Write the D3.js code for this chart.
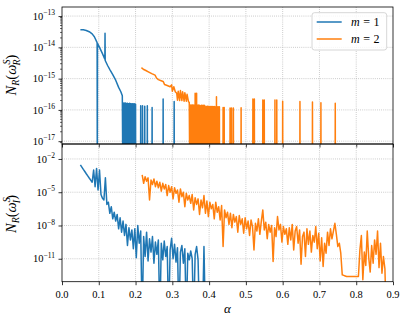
<!DOCTYPE html>
<html>
<head>
<meta charset="utf-8">
<script src="https://cdn.jsdelivr.net/npm/d3@7"></script>
<style>
  body { margin: 0; background: #fff; }
  svg { display: block; }
</style>
</head>
<body>
<svg id="chart" width="407" height="324" font-family="'Liberation Serif', 'DejaVu Serif', serif"></svg>
<script>
// all N_R values are stored as log10(N_R); null means N_R == 0 (falls off the log axis)

const xTicks = [0, 0.1, 0.2, 0.3, 0.4, 0.5, 0.6, 0.7, 0.8, 0.9];
const topTicks = [-17, -16, -15, -14, -13];
const botTicks = [-11, -8, -5, -2];
const seriesNames = ["1", "2"];
const colors = ["#1f77b4", "#ff7f0e"];

// ---- upper panel, m = 1 : smooth branch
const alphaReM1 = [0.050, 0.058, 0.066, 0.074, 0.082, 0.088, 0.0955, 0.096, 0.0965, 0.102,
  0.110, 0.1165, 0.117, 0.1175, 0.124, 0.1305, 0.138, 0.146, 0.154, 0.160, 0.164];
const logReM1 = [-13.44, -13.44, -13.46, -13.50, -13.57, -13.66, -13.85, null, -13.87, -14.0,
  -14.2, -14.38, -13.55, -14.42, -14.58, -14.72, -14.87, -15.05, -15.28, -15.42, -15.55];
// upper panel, m = 1 : isolated non-zero values
const spikeAlphaReM1 = [0.166, 0.168, 0.170, 0.172, 0.174, 0.176, 0.178, 0.180, 0.182, 0.184,
  0.186, 0.188, 0.190, 0.192, 0.194, 0.196, 0.198, 0.200,
  0.214, 0.219, 0.225, 0.232, 0.245, 0.275, 0.305];
const spikeLogReM1 = [-15.78, -15.78, -15.79, -15.78, -15.79, -15.8, -15.79, -15.8, -15.8, -15.79,
  -15.8, -15.81, -15.8, -15.8, -15.81, -15.8, -15.81, -15.82,
  -15.87, -15.87, -15.88, -15.87, -15.92, -15.65, -15.73];

// ---- upper panel, m = 2 : smooth branch
const alphaReM2 = [0.216, 0.221, 0.228, 0.236, 0.244, 0.253, 0.257, 0.262, 0.268, 0.275,
  0.279, 0.286, 0.294, 0.298, 0.300, 0.304, 0.308, 0.312, 0.314, 0.316,
  0.320, 0.322, 0.326, 0.328, 0.332, 0.334, 0.338, 0.340, 0.344, 0.346];
const logReM2 = [-14.65, -14.70, -14.74, -14.79, -14.84, -14.89, -14.98, -15.03, -15.06, -15.09,
  -15.19, -15.22, -15.26, -15.2, -15.4, -15.26, -15.42, -15.47, -15.69, -15.4,
  -15.7, -15.38, -15.7, -15.42, -15.72, -15.45, -15.72, -15.5, -15.74, -15.76];
// upper panel, m = 2 : isolated non-zero values
const spikeAlphaReM2 = [0.348, 0.350, 0.352, 0.354, 0.356, 0.358, 0.360, 0.362, 0.364, 0.366,
  0.368, 0.370, 0.372, 0.374, 0.378, 0.380, 0.382, 0.384, 0.386, 0.388,
  0.392, 0.394, 0.396, 0.398, 0.400, 0.402, 0.404, 0.406, 0.408, 0.410,
  0.412, 0.414, 0.416, 0.418, 0.420, 0.422, 0.424, 0.426, 0.428,
  0.438, 0.441, 0.457, 0.461, 0.466, 0.487, 0.519, 0.523, 0.546, 0.550,
  0.579, 0.584, 0.600, 0.647, 0.681, 0.704, 0.743];
const spikeLogReM2 = [-15.84, -15.84, -15.85, -15.84, -15.84, -15.85, -15.84, -15.47, -15.84, -15.47,
  -15.85, -15.84, -15.85, -15.85, -15.86, -15.85, -15.86, -15.86, -15.85, -15.86,
  -15.89, -15.89, -15.88, -15.89, -15.89, -15.9, -15.89, -15.89, -15.9, -15.89,
  -15.9, -15.89, -15.9, -15.9, -15.58, -15.9, -15.9, -15.91, -15.9,
  -15.92, -15.92, -15.94, -15.94, -15.94, -15.93, -15.65, -15.65, -15.68, -15.68,
  -15.68, -15.68, -15.72, -15.73, -15.75, -15.77, -15.79];

// ---- lower panel, both on a regular alpha grid (step 0.004)
const alphaStartM1 = 0.050, alphaStartM2 = 0.218, alphaStep = 0.004;
const logImM1 = [
  -2.54, -2.74, -2.94, -3.13, -3.33, -3.52, -3.72, -3.91, -4.1, -3.0,
  -4.5, -2.85, -4.8, -3.0, -5.2, -5.55, -5.7, -3.7, -6.1, -5.9,
  -6.9, -6.3, -7.4, -6.8, -7.6, -7.0, -8.3, -7.3, -8.6, -7.6,
  -8.9, -7.9, -9.8, -8.2, -9.3, -8.4, -10.1, -8.3, -10.9, -8.0,
  -9.6, -8.5, null, -9.0, -10.8, -8.6, -11.2, -9.2, -10.4, -9.0,
  -11.4, -9.5, -10.6, -9.3, null, -9.6, -11.1, -9.4, -10.8, -9.9,
  null, -10.2, -9.15, -11.0, -9.7, -11.3, -10.0, null, -10.4, -9.8,
  -11.4, -10.1, null, -10.5, -11.1, -10.3, -11.0, null, -10.6, -9.9,
  -11.1, null, null, null, -9.9, null];
const logImM2 = [
  -3.44, -4.2, -3.6, -4.0, -3.7, -5.7, -3.9, -4.3, -3.8, -4.5,
  -4.0, -4.6, -4.1, -4.9, -4.2, -4.7, -4.3, -5.3, -4.4, -5.0,
  -4.5, -5.6, -4.6, -5.1, -4.8, -5.9, -4.7, -5.4, -5.0, -6.3,
  -5.1, -5.7, -5.3, -6.0, -5.2, -6.6, -5.5, -6.1, -5.6, -7.0,
  -5.7, -6.4, -5.3, -6.9, -5.8, -7.2, -5.9, -6.5, -6.1, -7.4,
  -5.9, -6.8, -6.3, -7.5, -6.2, -9.9, -6.6, -7.3, -6.8, -7.9,
  -6.9, -8.2, -7.0, -7.7, -7.2, -8.6, -7.1, -7.9, -7.4, -8.7,
  -7.3, -8.3, -7.6, -8.9, -7.5, -8.1, -10.2, -7.8, -8.5, -7.4,
  -8.8, -7.6, -6.6, -8.4, -7.7, -9.2, -7.9, -8.6, -8.0, -11.25,
  -8.2, -9.0, -7.2, -8.4, -7.9, -9.5, -8.1, -8.8, -8.3, -9.7,
  -8.2, -9.3, -7.9, -10.2, -8.5, -8.1, -9.6, -8.4, -11.5, -9.0,
  -8.6, -10.8, -8.3, -9.7, -8.5, -10.4, -8.9, -9.5, -8.1, -10.1,
  -8.7, -11.2, -9.1, -11.7, -9.6, -10.5, -8.6, -9.8, -8.3, -9.2,
  -8.5, -7.8, -8.8, -9.9, -9.6, -10.5, -12.45, -12.5, -12.55, -12.6,
  -12.6, -12.6, -12.6, -12.6, -12.6, -12.6, -12.6, -12.6, -10.2, -8.9,
  -12.9, -10.4, -11.6, -8.5, -10.9, -12.2, -9.8, -11.4, -9.3, -10.6,
  -8.5, -11.8, -9.6, -12.3, -10.8, -11.9, null];

// ---------------------------------------------------------------
const svg = d3.select("#chart");
svg.append("rect").attr("width", 407).attr("height", 324).attr("fill", "#fff");

const left = 62, right = 393;
const topY0 = 7, midY = 144, botY1 = 281.7;

const x = d3.scaleLinear().domain([0, 0.9]).range([left, right]);
const yTop = d3.scaleLinear().domain([-17.09, -12.71]).range([midY, topY0]);
const yBot = d3.scaleLinear().domain([-13.07, -0.65]).range([botY1, midY]);

function withSpikes(alphas, logs, sA, sL) {
  const pts = alphas.map((a, i) => [a, logs[i]]);
  sA.forEach((a, i) => { pts.push([a - 0.0004, null], [a, sL[i]], [a + 0.0004, null]); });
  return pts.sort((p, q) => p[0] - q[0]);
}
function onGrid(start, logs) {
  return logs.map((v, i) => [start + i * alphaStep, v]);
}

const topData = [
  withSpikes(alphaReM1, logReM1, spikeAlphaReM1, spikeLogReM1),
  withSpikes(alphaReM2, logReM2, spikeAlphaReM2, spikeLogReM2)
];
const botData = [onGrid(alphaStartM1, logImM1), onGrid(alphaStartM2, logImM2)];

const defs = svg.append("defs");
defs.append("clipPath").attr("id", "clipTop").append("rect")
  .attr("x", left).attr("y", topY0).attr("width", right - left).attr("height", midY - topY0);
defs.append("clipPath").attr("id", "clipBot").append("rect")
  .attr("x", left).attr("y", midY).attr("width", right - left).attr("height", botY1 - midY);

function panel(y, y0, y1, ticks, data, clipId, minor) {
  const g = svg.append("g");
  // grid
  g.selectAll(".gx").data(xTicks.slice(1, -1)).join("line")
    .attr("x1", d => x(d)).attr("x2", d => x(d)).attr("y1", y0).attr("y2", y1)
    .attr("stroke", "#b0b0b0").attr("stroke-width", 0.8).attr("stroke-dasharray", "0.8,1.3");
  g.selectAll(".gy").data(ticks).join("line")
    .attr("x1", left).attr("x2", right).attr("y1", d => y(d)).attr("y2", d => y(d))
    .attr("stroke", "#b0b0b0").attr("stroke-width", 0.8).attr("stroke-dasharray", "0.8,1.3");

  // lines
  const floor = y.range()[0] + 40;
  const line = d3.line()
    .x(d => x(d[0]))
    .y(d => d[1] == null ? floor : y(d[1]));
  g.append("g").attr("clip-path", `url(#${clipId})`)
    .selectAll("path").data(data).join("path")
    .attr("d", line)
    .attr("fill", "none")
    .attr("stroke", (d, i) => colors[i])
    .attr("stroke-width", 1.5)
    .attr("stroke-linejoin", "round");

  // y axis
  const ax = g.append("g").attr("transform", `translate(${left},0)`)
    .call(d3.axisLeft(y).tickValues(ticks).tickSize(3.5).tickFormat(() => ""));
  ax.select(".domain").remove();
  ax.selectAll(".tick line").attr("stroke", "#000").attr("stroke-width", 0.8);
  if (minor) {
    const mv = [];
    d3.range(Math.floor(y.domain()[0]), Math.ceil(y.domain()[1])).forEach(dec => {
      d3.range(2, 10).forEach(k => {
        const v = dec + Math.log10(k);
        if (v > y.domain()[0] && v < y.domain()[1]) mv.push(v);
      });
    });
    ax.selectAll(".minor").data(mv).join("line")
      .attr("x1", 0).attr("x2", -2).attr("y1", d => y(d)).attr("y2", d => y(d))
      .attr("stroke", "#000").attr("stroke-width", 0.6);
  }
  const lab = g.selectAll(".ylab").data(ticks).join("text")
    .attr("x", left - 7).attr("y", d => y(d) + 3.6)
    .attr("text-anchor", "end").attr("font-size", 10.5);
  lab.append("tspan").text("10");
  lab.append("tspan").attr("dy", -4.5).attr("font-size", 7.5).text(d => "\u2212" + Math.abs(d));

  // x ticks under this panel
  const xa = g.append("g").attr("transform", `translate(0,${y0 > y1 ? y0 : y1})`)
    .call(d3.axisBottom(x).tickValues(xTicks).tickSize(3.5).tickFormat(() => ""));
  xa.select(".domain").remove();
  xa.selectAll(".tick line").attr("stroke", "#000").attr("stroke-width", 0.8);

  // frame
  g.append("rect").attr("x", left).attr("y", Math.min(y0, y1))
    .attr("width", right - left).attr("height", Math.abs(y1 - y0))
    .attr("fill", "none").attr("stroke", "#000").attr("stroke-width", 0.8);
}

panel(yTop, topY0, midY, topTicks, topData, "clipTop", true);
panel(yBot, midY, botY1, botTicks, botData, "clipBot", false);

// x tick labels
svg.selectAll(".xl").data(xTicks).join("text")
  .attr("x", d => x(d)).attr("y", 297.5)
  .attr("text-anchor", "middle").attr("font-size", 10.5)
  .text(d => d.toFixed(1));

svg.append("text").attr("x", (left + right) / 2).attr("y", 313)
  .attr("text-anchor", "middle").attr("font-size", 13).attr("font-style", "italic")
  .text("\u03b1");

// y labels  N_R(ω_R^S) and N_R(ω_I^S)
function yLabel(cy, sub) {
  const t = svg.append("text")
    .attr("transform", `translate(16,${cy}) rotate(-90)`)
    .attr("text-anchor", "middle").attr("font-size", 14.5);
  t.append("tspan").attr("font-style", "italic").text("N");
  t.append("tspan").attr("font-size", 10).attr("font-style", "italic").attr("dy", 3).text("R");
  t.append("tspan").attr("dy", -3).text("(");
  t.append("tspan").attr("font-style", "italic").text("\u03c9");
  t.append("tspan").attr("font-size", 10).attr("font-style", "italic").attr("dy", -6).text("S");
  t.append("tspan").attr("font-size", 10).attr("font-style", "italic").attr("dx", -6).attr("dy", 9.5).text(sub);
  t.append("tspan").attr("dy", -3.5).text(")");
}
yLabel(75, "R");
yLabel(214, "I");

// legend
const lg = svg.append("g");
lg.append("rect").attr("x", 312).attr("y", 12.7).attr("width", 74.7).attr("height", 37.3)
  .attr("rx", 2.5).attr("fill", "#fff").attr("fill-opacity", 0.8)
  .attr("stroke", "#cccccc").attr("stroke-width", 0.8);
seriesNames.forEach((n, i) => {
  const yy = 22 + i * 17;
  lg.append("line").attr("x1", 316.7).attr("x2", 341.7).attr("y1", yy).attr("y2", yy)
    .attr("stroke", colors[i]).attr("stroke-width", 1.5);
  const t = lg.append("text").attr("x", 351).attr("y", yy + 4).attr("font-size", 12);
  t.append("tspan").attr("font-style", "italic").text("m");
  t.append("tspan").attr("dx", 3.5).text("=");
  t.append("tspan").attr("dx", 3.5).text(n);
});
</script>
</body>
</html>
